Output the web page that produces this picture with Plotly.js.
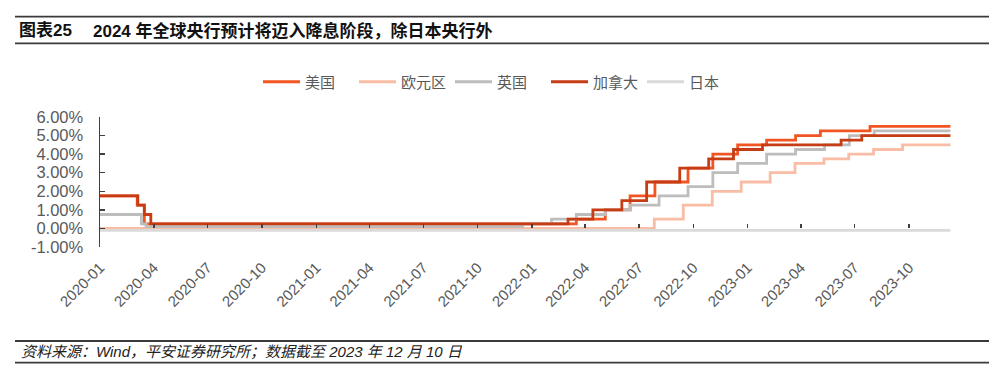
<!DOCTYPE html>
<html>
<head>
<meta charset="utf-8">
<script src="https://cdn.plot.ly/plotly-3.0.1.min.js"></script>
<style>
html,body{margin:0;padding:0;background:#fff;}
#chart{width:1000px;height:372px;}
</style>
</head>
<body>
<div id="chart"></div>
<script>
// ---- data (policy rates, %) ----
var usDates = ['2020-01-01','2020-03-04','2020-03-16','2022-03-17','2022-05-05','2022-06-16','2022-07-28','2022-09-22','2022-11-03','2022-12-15','2023-02-02','2023-03-23','2023-05-04','2023-07-27','2023-12-10'];
var usRates = [1.75,1.25,0.25,0.50,1.00,1.75,2.50,3.25,4.00,4.50,4.75,5.00,5.25,5.50,5.50];

var euDates = ['2020-01-01','2022-07-27','2022-09-14','2022-11-02','2022-12-21','2023-02-08','2023-03-22','2023-05-10','2023-06-21','2023-08-02','2023-09-20','2023-12-10'];
var euRates = [0.00,0.50,1.25,2.00,2.50,3.00,3.50,3.75,4.00,4.25,4.50,4.50];

var ukDates = ['2020-01-01','2020-03-11','2020-03-19','2021-12-16','2022-02-03','2022-03-17','2022-05-05','2022-06-16','2022-08-04','2022-09-22','2022-11-03','2022-12-15','2023-02-02','2023-03-23','2023-05-11','2023-06-22','2023-08-03','2023-12-10'];
var ukRates = [0.75,0.25,0.10,0.25,0.50,0.75,1.00,1.25,1.75,2.25,3.00,3.50,4.00,4.25,4.50,5.00,5.25,5.25];

var caDates = ['2020-01-01','2020-03-05','2020-03-16','2020-03-27','2022-03-03','2022-04-14','2022-06-02','2022-07-14','2022-09-08','2022-10-27','2022-12-08','2023-01-26','2023-06-08','2023-07-13','2023-12-10'];
var caRates = [1.75,1.25,0.75,0.25,0.50,1.00,1.50,2.50,3.25,3.75,4.25,4.50,4.75,5.00,5.00];

var jpDates = ['2020-01-01','2023-12-10'];
var jpRates = [-0.10,-0.10];

var seriesNames = ['美国','欧元区','英国','加拿大','日本'];
var yTickVals = [-1,0,1,2,3,4,5,6];
var yTickText = ['-1.00%','0.00%','1.00%','2.00%','3.00%','4.00%','5.00%','6.00%'];

var titleLead = '图表25';
var titleMain = '2024 年全球央行预计将迈入降息阶段，除日本央行外';
var sourceText = '资料来源：Wind，平安证券研究所；数据截至 2023 年 12 月 10 日';

// ---- layout geometry ----
var W = 1000, H = 372;
var M = {l:100, r:49, t:117, b:125};
var plotW = W - M.l - M.r, plotH = H - M.t - M.b;
function px(x){ return (x - M.l) / plotW; }
function py(y){ return (H - M.b - y) / plotH; }

var colors = ['#F25522','#F9BCA4','#BDBDBD','#C63D15','#DADADA'];
var lw = 2.8;
var tickFont = {family:'"Liberation Sans", Arial, sans-serif', color:'#595959'};

function mk(i, d, v, xa){
  return {x:d, y:v, name:seriesNames[i], type:'scatter', mode:'lines',
    line:{color:colors[i], width:lw, shape:'hv'}, xaxis:xa||'x', hoverinfo:'x+y'};
}

var traces = [
  mk(0, usDates, usRates),
  mk(1, euDates, euRates),
  mk(2, ukDates, ukRates),
  mk(3, caDates, caRates),
  mk(4, jpDates, jpRates, 'x2')
];

var xr = ['2020-01-01','2023-12-11'];
var layout = {
  width:W, height:H, margin:{l:M.l, r:M.r, t:M.t, b:M.b, pad:0},
  paper_bgcolor:'#fff', plot_bgcolor:'#fff',
  showlegend:true,
  legend:{orientation:'h', x:px(258), xanchor:'left', y:1-82/H, yref:'container', yanchor:'middle',
    font:{family:'"Noto Sans CJK SC", sans-serif', size:15, color:'#595959'}, itemwidth:37, traceorder:'normal',
    entrywidth:44, entrywidthmode:'pixels'},
  xaxis:{type:'date', range:xr, tickmode:'linear', tick0:'2020-01-01', dtick:'M3', tickformat:'%Y-%m',
    tickangle:-45, ticks:'', showline:false, showgrid:false, zeroline:false,
    tickfont:Object.assign({size:15}, tickFont), ticklabelstandoff:8},
  xaxis2:{type:'date', range:xr, overlaying:'x', anchor:'free', position:1/7,
    tickmode:'linear', tick0:'2020-01-01', dtick:'M3', ticks:'inside', ticklen:4, tickwidth:1.5, tickcolor:'#404040',
    showticklabels:false, showline:false, showgrid:false, zeroline:false},
  yaxis:{range:[-1,6], tickmode:'array', tickvals:yTickVals, ticktext:yTickText,
    ticks:'inside', ticklen:5, tickwidth:1.5, tickcolor:'#404040',
    showline:true, linecolor:'#404040', linewidth:1.5, showgrid:false, zeroline:false,
    tickfont:Object.assign({size:16.5}, tickFont), ticklabelstandoff:12},
  shapes:[
    {type:'line', xref:'paper', yref:'paper', x0:px(15), x1:px(989), y0:py(16.7), y1:py(16.7), line:{color:'#3a3a3a', width:1.8}},
    {type:'line', xref:'paper', yref:'paper', x0:px(15), x1:px(989), y0:py(43.3), y1:py(43.3), line:{color:'#3a3a3a', width:1.8}},
    {type:'line', xref:'paper', yref:'paper', x0:px(15), x1:px(989), y0:py(341), y1:py(341), line:{color:'#3a3a3a', width:1.8}},
    {type:'line', xref:'paper', yref:'paper', x0:px(15), x1:px(989), y0:py(362.7), y1:py(362.7), line:{color:'#3a3a3a', width:1.8}}
  ],
  annotations:[
    {xref:'paper', yref:'paper', x:px(17), y:py(31), xanchor:'left', yanchor:'middle', showarrow:false,
      text:'<b>'+titleLead+'</b>', font:{family:'"Liberation Sans", "Noto Sans CJK SC", sans-serif', size:17, color:'#111'}},
    {xref:'paper', yref:'paper', x:px(91), y:py(31), xanchor:'left', yanchor:'middle', showarrow:false,
      text:'<b>'+titleMain+'</b>', font:{family:'"Liberation Sans", "Noto Sans CJK SC", sans-serif', size:17, color:'#111'}},
    {xref:'paper', yref:'paper', x:px(19), y:py(351.5), xanchor:'left', yanchor:'middle', showarrow:false,
      text:'<i>'+sourceText+'</i>', font:{family:'"Liberation Sans", "Noto Sans CJK SC", sans-serif', size:15, color:'#222'}}
  ]
};

Plotly.newPlot('chart', traces, layout, {displayModeBar:false, staticPlot:true});
</script>
</body>
</html>
